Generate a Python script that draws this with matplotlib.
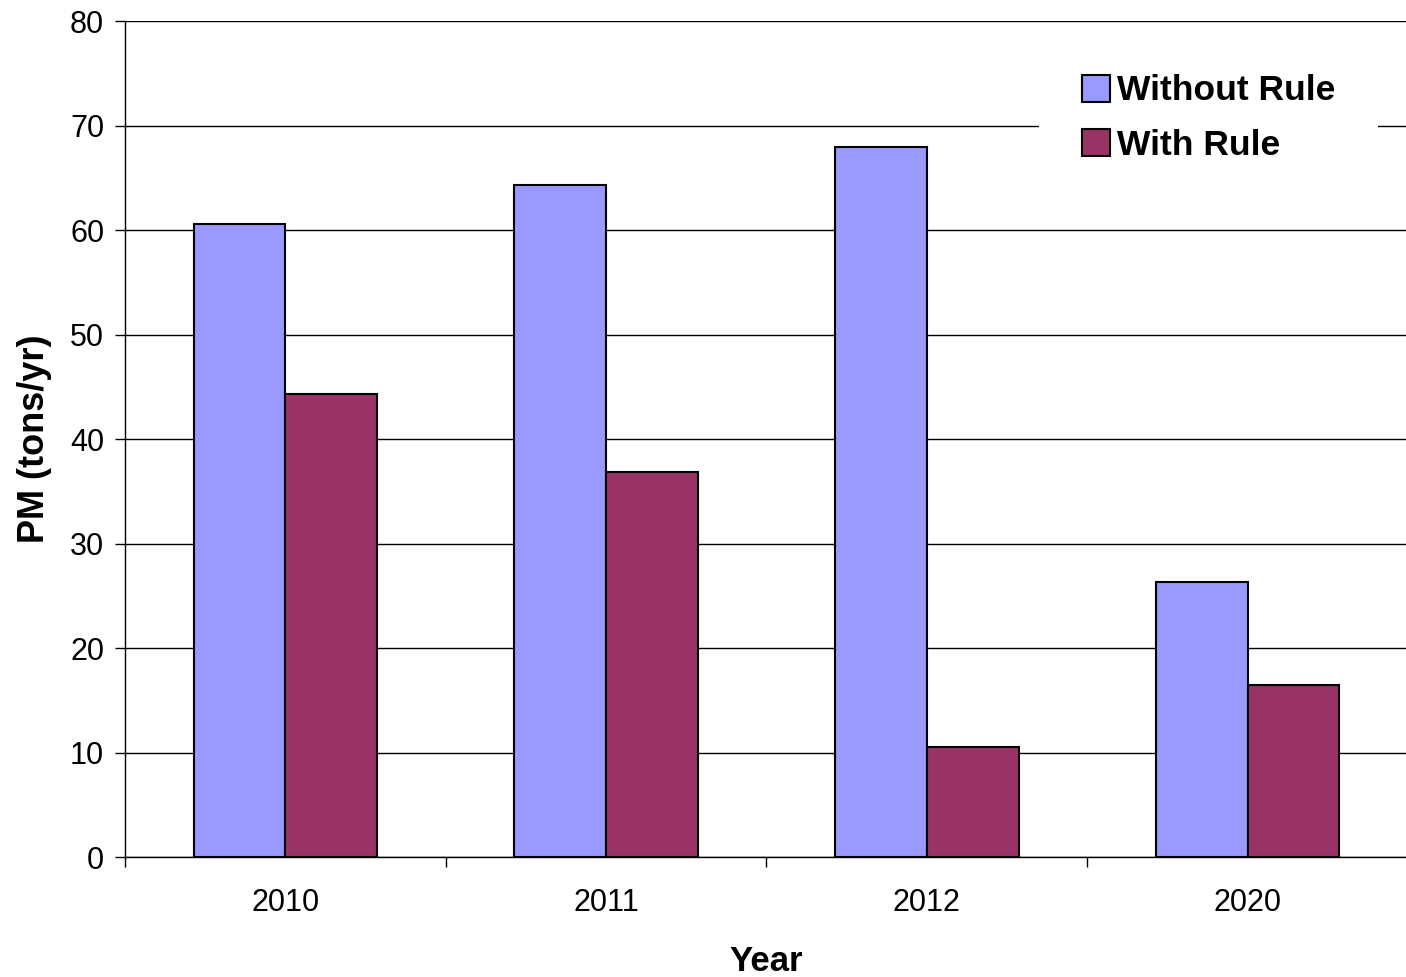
import matplotlib
matplotlib.use("Agg")
from matplotlib import pyplot as plt
import numpy as np

plt.rcParams['font.family'] = ['Liberation Sans', 'DejaVu Sans']

years = ["2010", "2011", "2012", "2020"]
without_rule = [60.6, 64.3, 67.9, 26.3]
with_rule = [44.3, 36.8, 10.5, 16.5]

fig = plt.figure(figsize=(14.06, 9.77), dpi=100)
ax = fig.add_axes([0.0889, 0.1228, 0.9125, 0.8557])

x = np.arange(len(years))
width = 0.286
ax.bar(x - width / 2, without_rule, width, color="#9999FF", edgecolor="black",
       linewidth=1.5, label="Without Rule", zorder=3)
ax.bar(x + width / 2, with_rule, width, color="#993366", edgecolor="black",
       linewidth=1.5, label="With Rule", zorder=3)

ax.set_xlim(-0.5, len(years) - 0.5)
ax.set_ylim(0, 80)
ax.set_yticks(range(0, 81, 10))
ax.set_xticks(x)
ax.set_xticklabels(years, fontsize=22)
ax.tick_params(axis='x', length=0, pad=22)
ax.set_xticks(np.arange(-0.5, len(years) - 1), minor=True)
ax.tick_params(axis='x', which='minor', length=7, width=1)
ax.tick_params(axis='y', labelsize=22, length=7, width=1, pad=8)

ax.grid(axis='y', color='black', linewidth=1, zorder=0)
ax.set_axisbelow(True)
for side in ("top", "right"):
    ax.spines[side].set_visible(False)
for side in ("left", "bottom"):
    ax.spines[side].set_linewidth(1)

ax.set_xlabel("Year", fontsize=25, fontweight='bold', labelpad=20)
ax.set_ylabel("PM (tons/yr)", fontsize=26, fontweight='bold', labelpad=13)

leg = ax.legend(loc='upper right', bbox_to_anchor=(0.9766, 0.987), frameon=True,
                fancybox=False, edgecolor='none', facecolor='white', framealpha=1,
                prop={'size': 25.5, 'weight': 'bold'}, handlelength=0.8, handleheight=0.8,
                handletextpad=0.2, labelspacing=0.6, borderpad=1.2, borderaxespad=0)
leg.set_zorder(5)

fig.savefig("out.png", dpi=100)
